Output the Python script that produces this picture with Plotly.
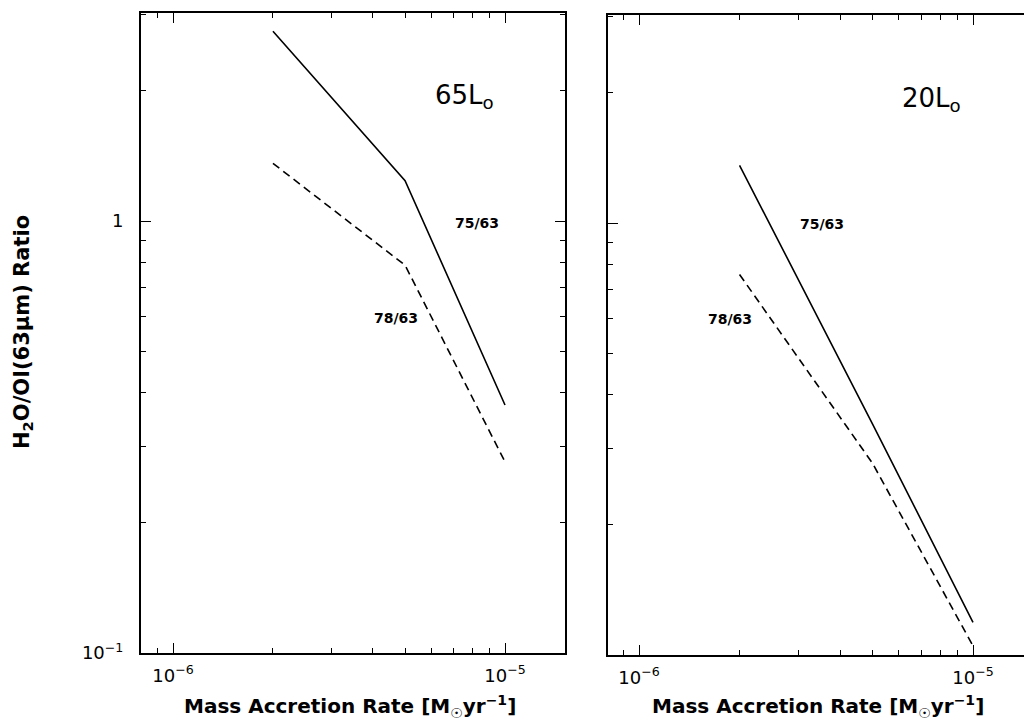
import plotly.graph_objects as go

W, H = 1024, 722

# ---- data ----
mdot = [2e-6, 5e-6, 1e-5]
left_75_63 = [2.75, 1.24, 0.375]
left_78_63 = [1.36, 0.79, 0.277]
right_75_63 = [1.36, 0.343, 0.119]
right_78_63 = [0.76, 0.278, 0.105]

panel_labels = ["65L<sub>o</sub>", "20L<sub>o</sub>"]
xtick_vals = [1e-6, 1e-5]
xtick_text = ["10<sup>\u22126</sup>", "10<sup>\u22125</sup>"]
ytick_vals = [0.1, 1]
ytick_text = ["10<sup>\u22121</sup>", "1"]
xminor = [m * 10.0**e for e in (-7, -6, -5) for m in range(2, 10)]
yminor = [m * 10.0**e for e in (-1, 0) for m in range(2, 10)]

FONT = "DejaVu Sans"

def px(x):
    return x / W

def py(y):
    return 1 - y / H

fig = go.Figure()

line_solid = dict(color="black", width=1.6)
line_dash = dict(color="black", width=1.6, dash="8px,5px")

fig.add_trace(go.Scatter(x=mdot, y=left_75_63, mode="lines", line=line_solid,
                         xaxis="x", yaxis="y", showlegend=False))
fig.add_trace(go.Scatter(x=mdot, y=left_78_63, mode="lines", line=line_dash,
                         xaxis="x", yaxis="y", showlegend=False))
fig.add_trace(go.Scatter(x=mdot, y=right_75_63, mode="lines", line=line_solid,
                         xaxis="x2", yaxis="y2", showlegend=False))
fig.add_trace(go.Scatter(x=mdot, y=right_78_63, mode="lines", line=line_dash,
                         xaxis="x2", yaxis="y2", showlegend=False))

tickfont = dict(family=FONT, size=18, color="black")

def xaxis(domain, rng, anchor, mirror):
    return dict(
        type="log", domain=domain, range=rng, anchor=anchor, automargin=False,
        showline=True, linecolor="black", linewidth=2, mirror=mirror,
        ticks="inside", ticklen=10, tickwidth=1.3, tickcolor="black",
        tickvals=xtick_vals, ticktext=xtick_text, tickfont=tickfont,
        ticklabelstandoff=5,
        showgrid=False, zeroline=False,
        minor=dict(tickvals=xminor, ticks="inside", ticklen=5, tickwidth=1.3,
                   tickcolor="black", showgrid=False),
    )

def yaxis(domain, anchor, labels, mirror):
    return dict(
        type="log", domain=domain, range=[-1, 0.4815], anchor=anchor,
        automargin=False,
        showline=True, linecolor="black", linewidth=2, mirror=mirror,
        ticks="inside", ticklen=10, tickwidth=1.3, tickcolor="black",
        tickvals=ytick_vals, ticktext=ytick_text, tickfont=tickfont,
        showticklabels=labels, ticklabelstandoff=12,
        showgrid=False, zeroline=False,
        minor=dict(tickvals=yminor, ticks="inside", ticklen=5, tickwidth=1.3,
                   tickcolor="black", showgrid=False),
    )

fig.update_layout(
    width=W, height=H,
    margin=dict(l=0, r=0, t=0, b=0, autoexpand=False),
    paper_bgcolor="white", plot_bgcolor="white",
    showlegend=False,
    xaxis=xaxis([px(141), px(565)], [-6.0964, -4.8193], "y", "ticks"),
    yaxis=yaxis([py(653), py(13)], "x", True, "ticks"),
    xaxis2=xaxis([px(608), 1.0], [-6.0928, -4.8473], "y2", "ticks"),
    yaxis2=yaxis([py(655), py(15)], "x2", False, False),
)

ann = []
def text(x, y, s, size, bold=False, anchor="center", angle=0):
    ann.append(dict(x=px(x), y=py(y), xref="paper", yref="paper", text=s,
                    showarrow=False, xanchor=anchor, yanchor="middle",
                    textangle=angle,
                    font=dict(family=FONT, size=size, color="black",
                              weight="bold" if bold else "normal")))

text(433, 97, panel_labels[0], 26, anchor="left")
text(900, 99, panel_labels[1], 26, anchor="left")
text(477, 223, "75/63", 14, bold=True)
text(822, 224, "75/63", 14, bold=True)
text(396, 318, "78/63", 14, bold=True)
text(730, 319, "78/63", 14, bold=True)
text(350, 706, "Mass Accretion Rate [M<sub>\u2609</sub>yr<sup>\u22121</sup>]", 20, bold=True)
text(818, 706, "Mass Accretion Rate [M<sub>\u2609</sub>yr<sup>\u22121</sup>]", 20, bold=True)
text(23, 332, "H<sub>2</sub>O/OI(63\u03bcm) Ratio", 21, bold=True, angle=-90)

fig.update_layout(annotations=ann)

fig.write_html("out.html")
